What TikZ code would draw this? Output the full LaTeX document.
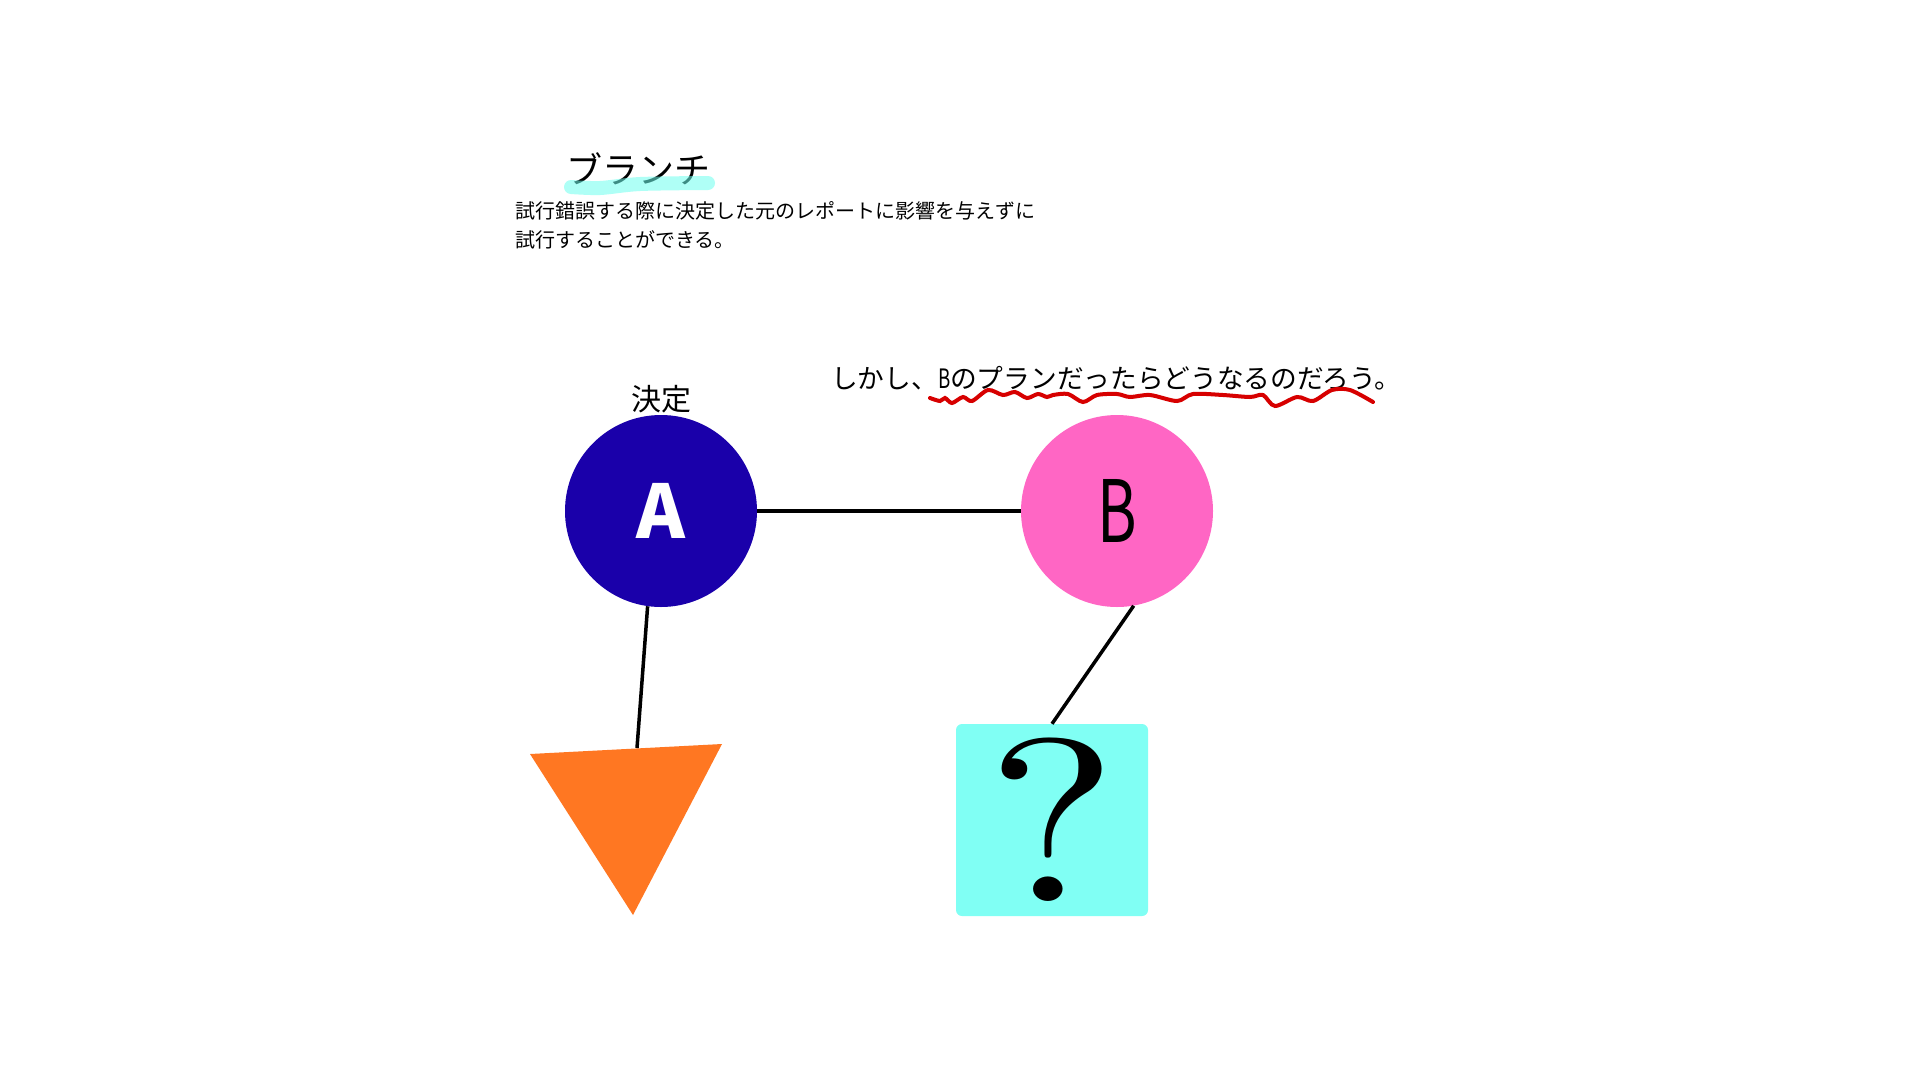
\documentclass[tikz,border=0pt]{standalone}
\usepackage{fontspec}
\newfontfamily\jp{Noto Sans CJK JP}
\newfontfamily\qmark{lmroman10-regular}[Extension=.otf]
\usetikzlibrary{positioning}
\definecolor{planA}{RGB}{26,0,170}
\definecolor{planB}{RGB}{255,102,196}
\definecolor{tri}{RGB}{255,119,34}
\definecolor{qbox}{RGB}{128,255,244}
\definecolor{marker}{RGB}{110,255,240}
\definecolor{wavy}{RGB}{215,0,0}

\begin{document}
\begin{tikzpicture}[x=1pt,y=-1pt,
  plan/.style={circle,minimum size=192pt,inner sep=0pt},
  link/.style={line width=3.5pt}]
\useasboundingbox[fill=white] (0,0) rectangle (1920,1080);

% Title and note
\node[anchor=base,inner sep=0pt,font=\jp\fontsize{36}{36}\selectfont] (title) at (638,183) {ブランチ};
\draw[marker,opacity=0.55,line width=14pt,line cap=round]
  plot[smooth] coordinates {(571,187) (600,188) (640,184) (708,183)};
\node[anchor=north west,inner sep=0pt,align=left,font=\jp\fontsize{20}{29}\selectfont] (desc) at (515,201)
  {試行錯誤する際に決定した元のレポートに影響を与えずに\\試行することができる。};

% Plans
\node[plan,fill=planA,text=white,font=\jp\bfseries\fontsize{74}{74}\selectfont] (A) at (661,511) {A};
\node[plan,fill=planB,font=\jp\fontsize{86}{86}\selectfont] (B) at (1117,511) {\scalebox{0.7}[1]{B}};
\node[above=2pt of A,inner sep=0pt,font=\jp\fontsize{30}{30}\selectfont] (kettei) {決定};

% Question
\node[anchor=base west,inner sep=0pt,font=\jp\fontsize{26.7}{26.7}\selectfont] (what) at (831,388)
  {しかし、\scalebox{0.7}[1]{B}のプランだったらどうなるのだろう。};
\draw[wavy,line width=4pt,line cap=round] plot[smooth,tension=0.5] coordinates {
  (930,398) (940,401) (945,398) (952,403) (963,397) (972,401) (988,390)
  (1003,395) (1015,392) (1027,398) (1038,394) (1047,397) (1053,395)
  (1068,394) (1083,402) (1097,395) (1117,394) (1130,397) (1150,395)
  (1177,401) (1193,394) (1223,395) (1250,397) (1263,395) (1275,406)
  (1297,397) (1313,401) (1332,390) (1350,390) (1373,402)};

% Outcomes
\node[fill=qbox,rounded corners=6pt,minimum size=192pt,inner sep=0pt,font=\qmark\fontsize{232}{232}\selectfont] (Q) at (1052,820) {\scalebox{1.2}[1]{?}};
\fill[tri] (530,754) -- (722,744) -- (633,915) -- cycle;
\coordinate (T) at (637,748);

\draw[link] (A) -- (B);
\draw[link] (A.-98) -- (T);
\draw[link] (B.-80) -- (Q.north);
\end{tikzpicture}
\end{document}
